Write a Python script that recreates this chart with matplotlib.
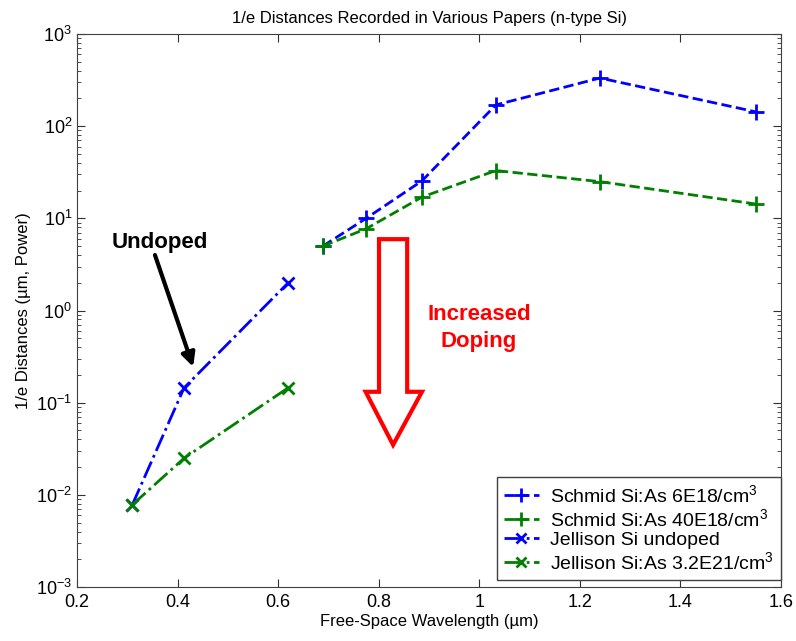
import matplotlib
matplotlib.use("Agg")
import matplotlib.pyplot as plt
from matplotlib.patches import Polygon

plt.rcParams["font.family"] = ["Liberation Sans", "DejaVu Sans"]
plt.rcParams["mathtext.fontset"] = "custom"
plt.rcParams["mathtext.rm"] = "Liberation Sans"
plt.rcParams["mathtext.it"] = "Liberation Sans:italic"

# wavelengths (um) and 1/e distances (um)
schmid_wl = [0.689, 0.775, 0.886, 1.033, 1.240, 1.550]
schmid_6e18 = [5.0, 10.0, 25.5, 170.0, 333.0, 143.0]
schmid_40e18 = [5.0, 7.7, 17.0, 33.0, 25.0, 14.3]

jellison_wl = [0.310, 0.413, 0.620]
jellison_undoped = [0.0078, 0.145, 2.0]
jellison_32e21 = [0.0078, 0.025, 0.145]

labels = ["Schmid Si:As 6E18/cm$^3$",
          "Schmid Si:As 40E18/cm$^3$",
          "Jellison Si undoped",
          "Jellison Si:As 3.2E21/cm$^3$"]

BLUE = "#0000ff"
GREEN = "#008000"

fig = plt.figure(figsize=(7.96, 6.41), dpi=100)
ax = fig.add_axes([77 / 796, 54 / 641, 704 / 796, 553 / 641])

ax.plot(schmid_wl, schmid_6e18, "--", color=BLUE, marker="+", ms=12, mew=2, lw=2, label=labels[0])
ax.plot(schmid_wl, schmid_40e18, "--", color=GREEN, marker="+", ms=12, mew=2, lw=2, label=labels[1])
ax.plot(jellison_wl, jellison_undoped, "-.", color=BLUE, marker="x", ms=8, mew=2, lw=2, label=labels[2])
ax.plot(jellison_wl, jellison_32e21, "-.", color=GREEN, marker="x", ms=8, mew=2, lw=2, label=labels[3])

ax.set_yscale("log")
ax.set_xlim(0.2, 1.6)
ax.set_ylim(1e-3, 1e3)
ax.set_xticks([0.2, 0.4, 0.6, 0.8, 1.0, 1.2, 1.4, 1.6])
ax.set_xticklabels(["0.2", "0.4", "0.6", "0.8", "1", "1.2", "1.4", "1.6"])

ax.tick_params(which="both", direction="in", top=True, right=True, labelsize=13, colors="#303030")
ax.tick_params(which="major", length=6)
ax.tick_params(which="minor", length=3)
ax.tick_params(axis="x", which="minor", top=False, bottom=False)
ax.tick_params(axis="x", pad=5)
for s in ax.spines.values():
    s.set_color("#404040")
for t in ax.get_xticklabels() + ax.get_yticklabels():
    t.set_color("black")

ax.set_title("1/e Distances Recorded in Various Papers (n-type Si)", fontsize=12, pad=8)
ax.set_xlabel("Free-Space Wavelength (\u00b5m)", fontsize=12, labelpad=2)
ax.set_ylabel("1/e Distances (\u00b5m, Power)", fontsize=12, labelpad=4)

leg = ax.legend(loc="lower right", bbox_to_anchor=(1.0, 0.013), borderaxespad=0,
                fontsize=14, handlelength=1.8, handletextpad=0.6, fancybox=False,
                framealpha=1, labelspacing=0.1, borderpad=0.35, markerscale=0.85)
leg.get_frame().set_edgecolor("#404040")
leg.get_frame().set_linewidth(1)

# "Undoped" callout
ax.text(0.364, 5.5, "Undoped", fontsize=16, fontweight="bold", ha="center", va="center")
ax.annotate("", xy=(0.431, 0.245), xytext=(0.355, 4.0),
            arrowprops=dict(arrowstyle="-|>", color="black", lw=3,
                            mutation_scale=20, shrinkA=0, shrinkB=0))

# hollow red arrow for doping trend
arrow = Polygon([(0.429, 0.629), (0.469, 0.629), (0.469, 0.353), (0.490, 0.353),
                 (0.449, 0.257), (0.410, 0.353), (0.429, 0.353)],
                closed=True, transform=ax.transAxes, facecolor="white",
                edgecolor="red", lw=3, joinstyle="miter", zorder=3)
ax.add_patch(arrow)
ax.text(0.571, 0.468, "Increased\nDoping", transform=ax.transAxes, color="red",
        fontsize=16, fontweight="bold", ha="center", va="center", linespacing=1.35)

fig.savefig("out.png", dpi=100)
